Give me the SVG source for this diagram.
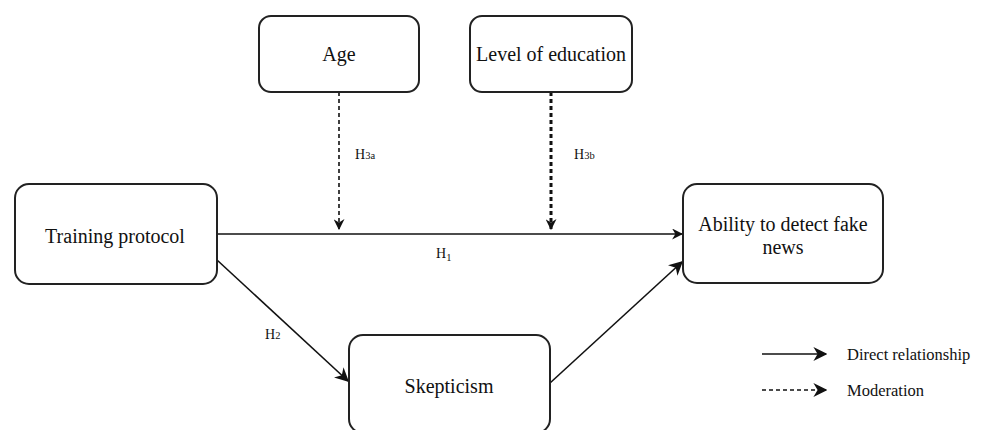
<svg xmlns="http://www.w3.org/2000/svg" width="984" height="430" viewBox="0 0 984 430">
<style>
.box{fill:#fff;stroke:#222;stroke-width:2}
text{font-family:'Liberation Serif','DejaVu Serif',serif;fill:#111}
.t{font-size:20px;text-anchor:middle}
.h{font-size:14px}
.s{font-size:10.5px}
.l{font-size:16.5px}
.c{fill:none;stroke:#111;stroke-width:1.6}
.d{stroke-dasharray:4 3}
</style>
<defs>
<marker id="a" viewBox="0 0 10 10" refX="9" refY="5" markerWidth="11" markerHeight="11" markerUnits="userSpaceOnUse" orient="auto">
<path d="M0,0 L10,5 L0,10 L3,5 Z" fill="#111"/>
</marker>
<marker id="b" viewBox="0 0 10 10" refX="9" refY="5" markerWidth="14" markerHeight="14" markerUnits="userSpaceOnUse" orient="auto">
<path d="M0,0 L10,5 L0,10 L3,5 Z" fill="#111"/>
</marker>
</defs>
<rect width="984" height="430" fill="#fff"/>
<g id="connectors">
<line class="c d" x1="339" y1="92" x2="339" y2="229" marker-end="url(#a)"/>
<line class="c" x1="551" y1="92" x2="551" y2="229" style="stroke-width:3;stroke-dasharray:4 3" marker-end="url(#a)"/>
<line class="c" x1="217" y1="234" x2="682" y2="234" marker-end="url(#a)"/>
<line class="c" x1="217" y1="260" x2="348" y2="381" marker-end="url(#b)"/>
<line class="c" x1="550" y1="383" x2="682" y2="262" marker-end="url(#b)"/>
<text class="h" x="355" y="159">H<tspan class="s">3a</tspan></text>
<text class="h" x="574" y="159">H<tspan class="s">3b</tspan></text>
<text class="h" x="436" y="258">H<tspan class="s" dy="3">1</tspan></text>
<text class="h" x="265" y="339">H<tspan class="s">2</tspan></text>
</g>
<g id="age"><rect class="box" x="259" y="16" width="160" height="76" rx="12"/><text class="t" x="339" y="61">Age</text></g>
<g id="education"><rect class="box" x="470" y="16" width="162" height="76" rx="12"/><text class="t" x="551" y="61">Level of education</text></g>
<g id="training"><rect class="box" x="15" y="184" width="202" height="100" rx="14"/><text class="t" x="115" y="243">Training protocol</text></g>
<g id="ability"><rect class="box" x="683" y="184" width="200" height="99" rx="14"/><text class="t" x="783" y="231">Ability to detect fake</text><text class="t" x="783" y="254">news</text></g>
<g id="skepticism"><rect class="box" x="349" y="335" width="201" height="98" rx="14"/><text class="t" x="449" y="393">Skepticism</text></g>
<g id="legend">
<line class="c" x1="762" y1="354" x2="826" y2="354" marker-end="url(#b)"/>
<text class="l" x="847" y="360">Direct relationship</text>
<line class="c d" x1="762" y1="390" x2="826" y2="390" marker-end="url(#b)"/>
<text class="l" x="847" y="396">Moderation</text>
</g>
</svg>
